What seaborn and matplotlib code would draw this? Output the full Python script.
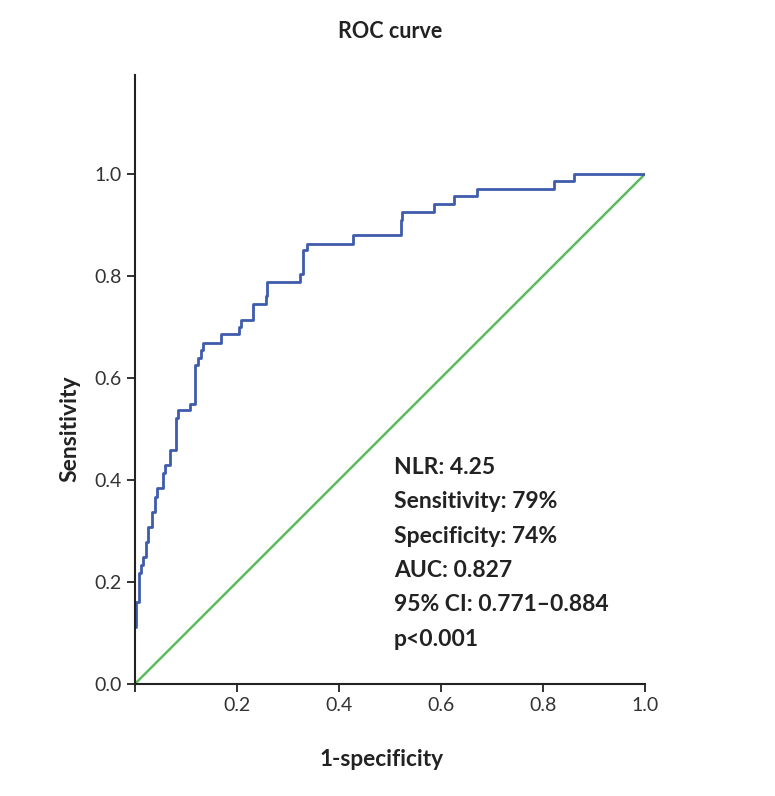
import matplotlib
matplotlib.use("Agg")
import matplotlib.pyplot as plt
import seaborn as sns
import pandas as pd

# ROC curve points (1-specificity, sensitivity)
fpr = [0.000, 0.003, 0.008, 0.013, 0.016, 0.022, 0.026, 0.034, 0.039,
       0.044, 0.056, 0.060, 0.069, 0.080, 0.085, 0.108, 0.118, 0.123, 0.129,
       0.134, 0.168, 0.205, 0.208, 0.231, 0.257, 0.259, 0.324, 0.330, 0.337,
       0.427, 0.521, 0.524, 0.587, 0.626, 0.670, 0.822, 0.861, 1.000]
tpr = [0.112, 0.161, 0.217, 0.233, 0.250, 0.279, 0.308, 0.338, 0.367,
       0.384, 0.413, 0.429, 0.459, 0.521, 0.537, 0.550, 0.625, 0.639, 0.655,
       0.669, 0.686, 0.700, 0.715, 0.745, 0.761, 0.789, 0.805, 0.851, 0.864,
       0.880, 0.910, 0.926, 0.941, 0.957, 0.971, 0.986, 1.000, 1.000]
ref_line = [0.0, 1.0]

stats_lines = ["NLR: 4.25", "Sensitivity: 79%", "Specificity: 74%",
               "AUC: 0.827", "95% CI: 0.771\u20130.884", "p<0.001"]

x_ticks = [0.0, 0.2, 0.4, 0.6, 0.8, 1.0]
x_tick_labels = ["", "0.2", "0.4", "0.6", "0.8", "1.0"]
y_ticks = [0.0, 0.2, 0.4, 0.6, 0.8, 1.0]

sns.set_style("ticks")
plt.rcParams['font.family'] = ['Lato', 'DejaVu Sans']

roc_df = pd.DataFrame({"fpr": fpr, "tpr": tpr})
ref_df = pd.DataFrame({"x": ref_line, "y": ref_line})

fig = plt.figure(figsize=(7.75, 7.96), dpi=100)
ax = fig.add_axes([0.174, 0.1407, 0.658, 0.7653])

sns.lineplot(data=ref_df, x="x", y="y", ax=ax, color="#5cbb5c", linewidth=1.8,
             estimator=None, sort=False)
sns.lineplot(data=roc_df, x="fpr", y="tpr", ax=ax, color="#3f5cac", linewidth=2.0,
             estimator=None, sort=False, drawstyle="steps-post")

ax.set_xlim(0, 1.0)
ax.set_ylim(0, 1.195)
ax.set_xticks(x_ticks)
ax.set_xticklabels(x_tick_labels)
ax.set_yticks(y_ticks)
ax.set_yticklabels([f"{v:.1f}" for v in y_ticks])
ax.tick_params(axis="both", labelsize=14, length=6, width=1.3, colors="#222222",
               labelcolor="#333333")
for side in ["left", "bottom"]:
    ax.spines[side].set_linewidth(1.5)
    ax.spines[side].set_color("#222222")
sns.despine(ax=ax)

ax.set_xlabel("1-specificity", fontsize=16.3, fontweight="bold", color="#222222")
ax.xaxis.set_label_coords(0.484, -0.107)
ax.set_ylabel("Sensitivity", fontsize=16.5, fontweight="bold", color="#222222")
ax.yaxis.set_label_coords(-0.106, 0.5 / 1.195)
fig.text(0.503, 0.96, "ROC curve", ha="center", va="center", fontsize=15.5,
         fontweight="bold", color="#222222")

ax.text(0.508, 0.446, "\n".join(stats_lines), transform=ax.transData, ha="left", va="top",
        fontsize=16.5, fontweight="bold", color="#222222", linespacing=1.79)

fig.savefig("out.png", dpi=100)
